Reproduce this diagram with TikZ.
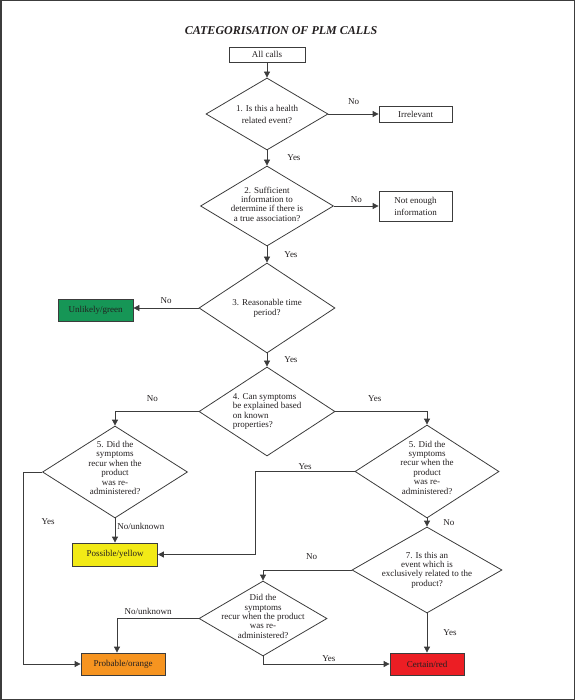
\documentclass[tikz,border=0pt]{standalone}
\usepackage{fontspec}
\setmainfont{Liberation Serif}
\usetikzlibrary{arrows.meta,positioning,shapes.geometric,calc}
\definecolor{plmline}{RGB}{60,60,60}
\definecolor{plmtext}{RGB}{35,31,32}
\definecolor{plmgreen}{RGB}{22,150,86}
\definecolor{plmyellow}{RGB}{242,234,22}
\definecolor{plmorange}{RGB}{246,148,32}
\definecolor{plmred}{RGB}{236,30,36}

\begin{document}
\begin{tikzpicture}[x=1pt,y=-1pt,
  outbox/.style={draw=plmline,line width=0.8pt,inner sep=0pt,
    font=\fontsize{9}{12}\selectfont,align=center,text=plmtext},
  decision/.style={diamond,draw=plmline,line width=0.8pt,inner sep=0pt},
  qtext/.style={font=\fontsize{9}{9.4}\selectfont,align=center,text=plmtext,inner sep=0pt},
  arr/.style={-{Triangle[length=6pt,width=6pt]},plmline,line width=0.8pt},
  lbl/.style={font=\fontsize{9}{10}\selectfont,text=plmtext,inner sep=0pt}
]
  \useasboundingbox (0,0) rectangle (575,700);
  \draw[plmline,line width=1.5pt] (0.75,0.75) rectangle (574.25,699.25);

  \node[font=\bfseries\itshape\fontsize{12}{14}\selectfont,text=plmtext] (title) at (281,31)
    {CATEGORISATION OF PLM CALLS};

  % Questions
  \node[outbox,minimum width=76pt,minimum height=15pt] (all) at (267,54.5) {All calls};
  \node[decision,minimum width=122pt,minimum height=72pt] (q1) at (267,114) {};
  \node[qtext,font=\fontsize{9}{12}\selectfont] (q1t) at (q1) {1. Is this a health\\related event?};
  \node[decision,minimum width=133pt,minimum height=80pt] (q2) at (267,206) {};
  \node[qtext] (q2t) at ([yshift=2pt]q2) {2. Sufficient\\information to\\determine if there is\\a true association?};
  \node[decision,minimum width=136pt,minimum height=90pt] (q3) at (267,308) {};
  \node[qtext,font=\fontsize{9}{10}\selectfont] (q3t) at (q3) {3. Reasonable time\\period?};
  \node[decision,minimum width=136pt,minimum height=89pt] (q4) at (267,411.5) {};
  \node[qtext,align=left] (q4t) at (q4) {4. Can symptoms\\be explained based\\on known\\properties?};
  \node[decision,minimum width=145pt,minimum height=92pt] (q5l) at (115,472) {};
  \node[qtext] (q5lt) at ([yshift=4pt]q5l) {5. Did the\\symptoms\\recur when the\\product\\was re-\\administered?};
  \node[decision,minimum width=144pt,minimum height=93pt] (q5r) at (427,471.5) {};
  \node[qtext] (q5rt) at ([yshift=4pt]q5r) {5. Did the\\symptoms\\recur when the\\product\\was re-\\administered?};
  \node[decision,minimum width=150pt,minimum height=86pt] (q7) at (427,570) {};
  \node[qtext] (q7t) at (q7) {7. Is this an\\event which is\\exclusively related to the\\product?};
  \node[decision,minimum width=128pt,minimum height=75pt] (q6) at (263,618.5) {};
  \node[qtext] (q6t) at ([yshift=2pt]q6) {Did the\\symptoms\\recur when the product\\was re-\\administered?};

  % Outcomes
  \node[outbox,minimum width=73pt,minimum height=16pt] (irr) at (415.5,114) {Irrelevant};
  \node[outbox,minimum width=73pt,minimum height=30pt] (noinfo) at (415.5,206) {Not enough\\information};
  \node[outbox,fill=plmgreen,minimum width=75pt,minimum height=22pt] (unlikely) at (95.5,310) {Unlikely/green};
  \node[outbox,fill=plmyellow,minimum width=85pt,minimum height=23pt] (possible) at (115,554.5) {Possible/yellow};
  \node[outbox,fill=plmorange,minimum width=84pt,minimum height=22pt] (probable) at (123,664) {Probable/orange};
  \node[outbox,fill=plmred,minimum width=74pt,minimum height=22pt] (certain) at (427,664) {Certain/red};

  \draw[arr] (all) -- (q1);
  \draw[arr] (q1) -- node[lbl,above=9pt]{No} (irr);
  \draw[arr] (q1) -- node[lbl,right=20pt]{Yes} (q2);
  \draw[arr] (q2) -- node[lbl,above=3pt]{No} (noinfo);
  \draw[arr] (q2) -- node[lbl,right=17pt]{Yes} (q3);
  \draw[arr] (q3.west) -- node[lbl,above=4pt]{No} (q3.west -| unlikely.east);
  \draw[arr] (q3) -- node[lbl,right=17pt]{Yes} (q4);
  \draw[arr] (q4.west) -| node[lbl,above=10pt,pos=0.276]{No} (q5l.north);
  \draw[arr] (q4.east) -| node[lbl,above=10pt,pos=0.215]{Yes} (q5r.north);
  \draw[arr] (q5l.west) -- ++(-19,0) |- node[lbl,right=18pt,pos=0.13]{Yes} (probable.west);
  \draw[arr] (q5l) -- node[lbl,right=2pt,pos=0.32]{No/unknown} (possible);
  \draw[arr] (q5r.west) -- node[lbl,above=2pt]{Yes} ++(-99,0) |- (possible.east);
  \draw[arr] (q5r) -- node[lbl,right=16pt]{No} (q7);
  \draw[arr] (q7.west) -| node[lbl,above=10pt,pos=0.225]{No} (q6.north);
  \draw[arr] (q7) -- node[lbl,right=16pt]{Yes} (certain);
  \draw[arr] (q6.west) -| node[lbl,above=4pt,pos=0.31]{No/unknown} ([xshift=-6pt]probable.north);
  \draw[arr] (q6.south) |- node[lbl,above=2pt,pos=0.76]{Yes} (certain.west);
\end{tikzpicture}
\end{document}
